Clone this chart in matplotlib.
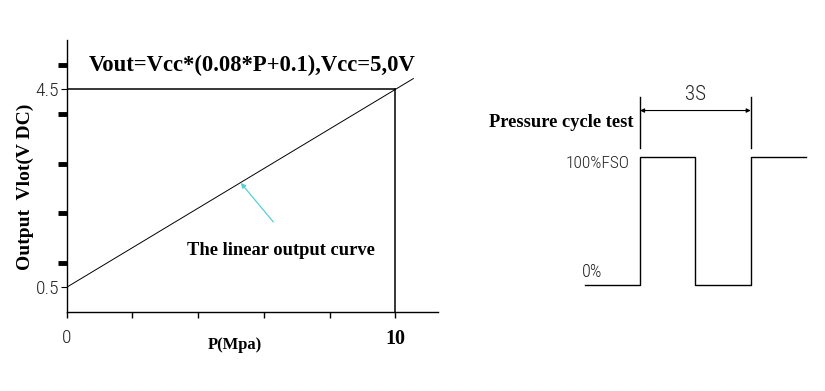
import matplotlib
matplotlib.use('Agg')
import matplotlib.pyplot as plt
from matplotlib import font_manager

# ---------------- data ----------------
pressure_ticks = [0, 2, 4, 6, 8, 10]
pressure_ticklabels = ['0', '', '', '', '', '10']
voltage_ticks = [0.5, 4.5]
voltage_ticklabels = ['0.5', '4.5']
voltage_dots = [1, 2, 3, 4, 5]
curve_p = [0, 10.55]
curve_v = [0.5, 4.72]
full_scale_p = 10
full_scale_v = 4.5
arrow_tail = (6.29, 1.82)
arrow_head = (5.30, 2.61)

cycle_t = [-1.5, 0, 0, 1.5, 1.5, 3, 3, 4.5]
cycle_level = [0, 0, 100, 100, 0, 0, 100, 100]
period_marks = [0, 3]
level_ticks = [0, 100]
level_labels = ['0%', '100%FSO']
period_label = '3S'

formula = 'Vout=Vcc*(0.08*P+0.1),Vcc=5,0V'
curve_note = 'The linear output curve'

# ---------------- fonts ----------------
available = {f.name for f in font_manager.fontManager.ttflist}
narrow = next((n for n in ['Liberation Sans Narrow', 'DejaVu Sans Condensed',
                           'Roboto Condensed', 'Open Sans Condensed', 'Roboto',
                           'DejaVu Sans'] if n in available), 'DejaVu Sans')
serif = ['Liberation Serif', 'DejaVu Serif', 'DejaVu Sans']
narrow_list = [narrow, 'DejaVu Sans']

fig = plt.figure(figsize=(8.25, 3.91), dpi=100)
fig.patch.set_facecolor('white')

# ---------------- left chart ----------------
ax = fig.add_axes([0.0808, 0.2020, 0.4501, 0.6957])
ax.set_xlim(0, 11.3)
ax.set_ylim(0, 5.5)
for s in ['top', 'right']:
    ax.spines[s].set_visible(False)
for s in ['left', 'bottom']:
    ax.spines[s].set_linewidth(1.0)
    ax.spines[s].set_color('black')

ax.plot(curve_p, curve_v, color='black', lw=0.7)
ax.plot([0, full_scale_p], [full_scale_v, full_scale_v], color='black', lw=1.1)
ax.plot([full_scale_p, full_scale_p], [0, full_scale_v], color='black', lw=1.1)

ax.set_xticks(pressure_ticks)
ax.set_xticklabels(pressure_ticklabels)
ax.tick_params(axis='x', direction='out', length=4, width=1.0, pad=8)
xl = ax.get_xticklabels()
xl[0].set_fontfamily(narrow_list)
xl[0].set_fontsize(14)
xl[0].set_fontweight('light')
xl[0].set_color('#222222')
xl[-1].set_fontfamily(serif)
xl[-1].set_fontweight('bold')
xl[-1].set_fontsize(14.5)

ax.set_yticks(voltage_ticks)
ax.set_yticklabels(voltage_ticklabels, fontfamily=narrow_list,
                   fontsize=14, fontweight='light', color='#222222')
ax.set_yticks(voltage_dots, minor=True)
ax.tick_params(axis='y', which='major', direction='out', length=4.5, width=0.8, pad=1)
ax.tick_params(axis='y', which='minor', direction='out', length=6.5, width=3.5)

ax.text(5.66, 4.99, formula, fontfamily=serif, fontweight='bold', fontsize=16.3,
        ha='center', va='center')
ax.text(6.53, 1.244, curve_note, fontfamily=serif, fontweight='bold', fontsize=13.3,
        ha='center', va='center')
ax.annotate('', xy=arrow_head, xytext=arrow_tail,
            arrowprops=dict(arrowstyle='-|>', color='#55cfd6', lw=0.9,
                            mutation_scale=7, shrinkA=0, shrinkB=0))

ax.set_ylabel('Output  Vlot(V DC)', fontfamily=serif, fontweight='bold', fontsize=14)
ax.yaxis.set_label_coords(-0.112, 0.46)
ax.yaxis.label.set_verticalalignment('center')
ax.set_xlabel('P(Mpa)', fontfamily=serif, fontweight='bold', fontsize=12)
ax.xaxis.set_label_coords(0.453, -0.121)
ax.xaxis.label.set_verticalalignment('center')

# ---------------- right chart ----------------
bx = fig.add_axes([0.6788, 0.2327, 0.3152, 0.5627])
bx.set_xlim(-2.168, 4.878)
bx.set_ylim(-11.75, 160.5)
bx.axis('off')

bx.plot(cycle_t, cycle_level, color='black', lw=1.0)
for t in period_marks:
    bx.plot([t, t], [107, 147.5], color='black', lw=1.0)
bx.annotate('', xy=(period_marks[0], 136.6), xytext=(period_marks[1], 136.6),
            arrowprops=dict(arrowstyle='<|-|>', color='black', lw=0.8,
                            mutation_scale=6, shrinkA=0, shrinkB=0))
bx.text(sum(period_marks) / 2, 149, period_label, fontfamily=narrow_list,
        fontsize=15, fontweight='light', ha='center', va='center', color='#222222')
bx.text(-0.19, 127.1, 'Pressure cycle test', fontfamily=serif, fontweight='bold',
        fontsize=13.3, ha='right', va='center')
bx.text(-0.27, 95.3, level_labels[1], fontfamily=narrow_list, fontsize=12.5,
        fontweight='light', ha='right', va='center', color='#222222')
bx.text(-1.03, 10.4, level_labels[0], fontfamily=narrow_list, fontsize=13,
        fontweight='light', ha='right', va='center', color='#222222')

fig.savefig('out.png', dpi=100, facecolor='white')
